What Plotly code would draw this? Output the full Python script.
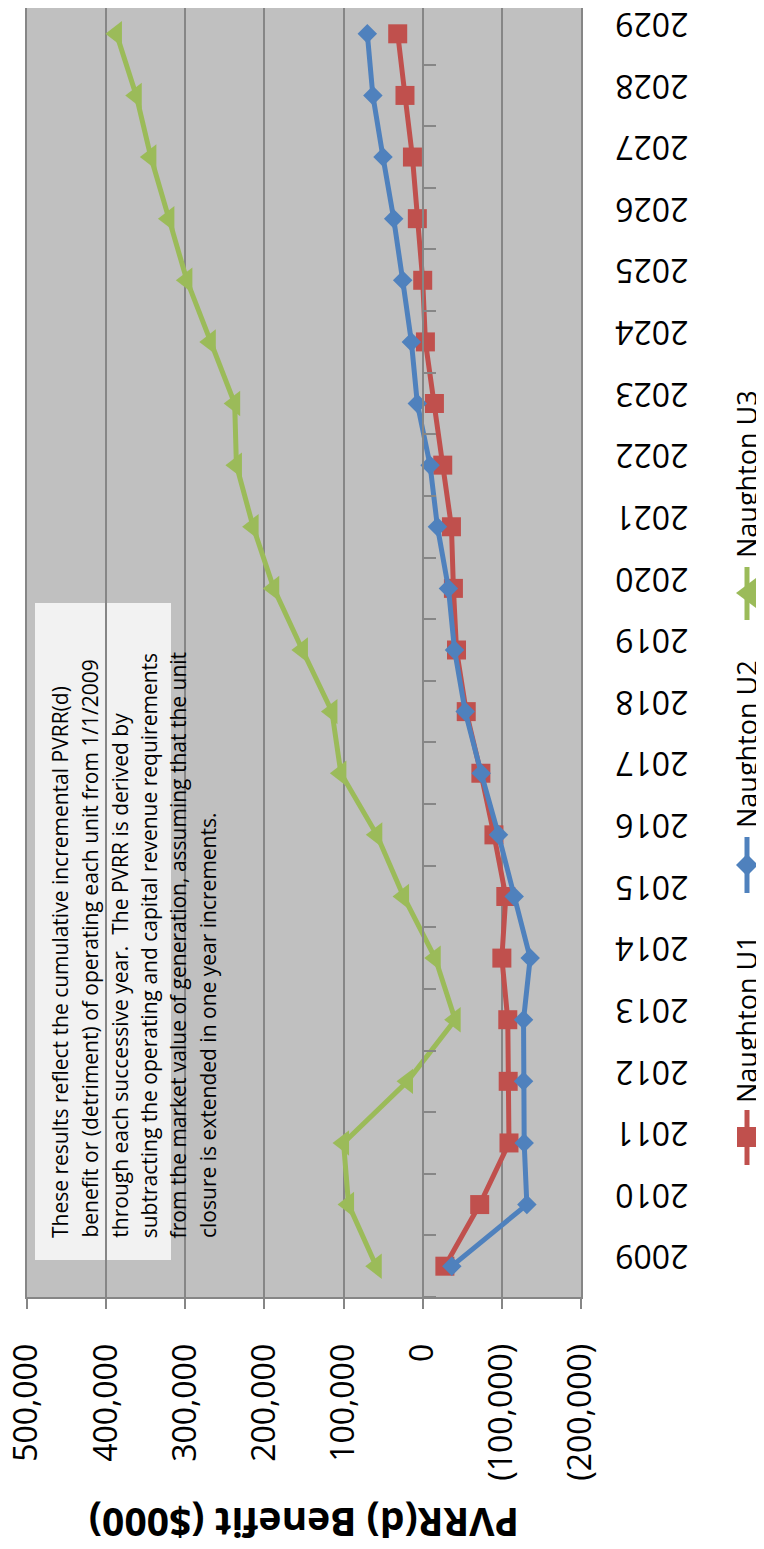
import plotly.graph_objects as go

# ---------------- data ----------------
years = ["2009", "2010", "2011", "2012", "2013", "2014", "2015", "2016", "2017", "2018",
         "2019", "2020", "2021", "2022", "2023", "2024", "2025", "2026", "2027", "2028", "2029"]

naughton_u1 = [-28000, -72000, -109000, -108000, -107500, -100000, -105000, -90000, -73500, -55000,
               -42700, -38800, -36300, -25300, -14800, -3400, 0, 6800, 13000, 22400, 31600]
naughton_u2 = [-36800, -131600, -128200, -127400, -127400, -135800, -115600, -95800, -73900, -53700,
               -40200, -32500, -18600, -9300, 6800, 14300, 25300, 36700, 50200, 63000, 70000]
naughton_u3 = [58700, 93700, 100000, 19200, -41000, -15800, 24200, 58000, 103400, 114700,
               152000, 188200, 214300, 235400, 237600, 268400, 298000, 320700, 343500, 362000, 387000]

value_ticks = [500000, 400000, 300000, 200000, 100000, 0, -100000, -200000]

series_names = ["Naughton U1", "Naughton U2", "Naughton U3"]

note_lines = [
    "These results reflect the cumulative incremental PVRR(d)",
    "benefit or (detriment) of operating each unit from 1/1/2009",
    "through each successive year.  The PVRR is derived by",
    "subtracting the operating and capital revenue requirements",
    "from the market value of generation, assuming that the unit",
    "closure is extended in one year increments.",
]
axis_title = "PVRR(d) Benefit ($000)"


def fmt(v):
    return f"{v:,}" if v >= 0 else f"({-v:,})"


# ---------------- geometry ----------------
# the page body has an 8px margin, so the figure is drawn 8px in from the corner
OFF = 8
W, H = 764 - OFF, 1549 - OFF
PLOT_L, PLOT_R, PLOT_B = 27, 581, 1297      # plot edges in window pixels
PLOT_T = OFF                                 # top of plot (window pixels)
L = PLOT_L - OFF
R = W - (PLOT_R - OFF)
T = 0
B = H - (PLOT_B - OFF)
PW = PLOT_R - PLOT_L
PH = PLOT_B - PLOT_T
CAT = (1297 - 3) / 21.0                      # category pitch
cat_top = -0.5 + (PLOT_B - PLOT_T) / CAT


def px(x):
    return (x - PLOT_L) / PW


def py(y):
    return (PLOT_B - y) / PH


RED, BLUE, GREEN = "#C0504D", "#4F81BD", "#9BBB59"
GRID = "#868686"
FONT = "Open Sans"

fig = go.Figure()
fig.add_trace(go.Scatter(x=naughton_u1, y=years, mode="lines+markers", name=series_names[0],
                         line=dict(color=RED, width=5),
                         marker=dict(symbol="square", size=19, color=RED)))
fig.add_trace(go.Scatter(x=naughton_u2, y=years, mode="lines+markers", name=series_names[1],
                         line=dict(color=BLUE, width=5),
                         marker=dict(symbol="diamond", size=15, color=BLUE)))
fig.add_trace(go.Scatter(x=naughton_u3, y=years, mode="lines+markers", name=series_names[2],
                         line=dict(color=GREEN, width=5),
                         marker=dict(symbol="triangle-left", size=22, color=GREEN)))
# empty trace to carry the category-axis line drawn at value 0
fig.add_trace(go.Scatter(x=[], y=[], yaxis="y2", showlegend=False, hoverinfo="skip"))

shapes = []
annotations = []

# note box
shapes.append(dict(type="rect", xref="paper", yref="paper", layer="between",
                   x0=px(35), x1=px(171), y0=py(1260), y1=py(603),
                   fillcolor="#F2F2F2", line=dict(width=0)))
for i, line in enumerate(note_lines):
    annotations.append(dict(text=line, xref="paper", yref="paper",
                            x=px(60 + i * 29.6), y=py(1240), xanchor="center", yanchor="bottom",
                            textangle=-90, showarrow=False,
                            font=dict(family=FONT, size=21, color="black")))

# axis title
annotations.append(dict(text="<b>" + axis_title + "</b>", xref="paper", yref="paper",
                        x=px(304), y=py(1524), xanchor="center", yanchor="middle",
                        textangle=180, showarrow=False,
                        font=dict(family=FONT, size=39, color="black")))

# legend (rotated)
LX = 747
leg = [
    (series_names[0], RED, 1110, 1165, 1105),
    (series_names[1], BLUE, 837, 893, 830),
    (series_names[2], GREEN, 567, 620, 560),
]
for name, col, ya, yb, ytext in leg:
    shapes.append(dict(type="line", xref="paper", yref="paper",
                       x0=px(LX), x1=px(LX), y0=py(ya), y1=py(yb),
                       line=dict(color=col, width=5)))
    annotations.append(dict(text=name, xref="paper", yref="paper",
                            x=px(LX - 1), y=py(ytext), xanchor="center", yanchor="bottom",
                            textangle=-90, showarrow=False,
                            font=dict(family=FONT, size=27, color="black")))
# legend symbols
shapes.append(dict(type="rect", xref="paper", yref="paper",
                   x0=px(LX - 10), x1=px(LX + 10), y0=py(1147), y1=py(1127),
                   fillcolor=RED, line=dict(width=0)))
shapes.append(dict(type="path", xref="paper", yref="paper",
                   path=f"M {px(LX-11)},{py(865)} L {px(LX)},{py(854)} L {px(LX+11)},{py(865)} L {px(LX)},{py(876)} Z",
                   fillcolor=BLUE, line=dict(width=0)))
shapes.append(dict(type="path", xref="paper", yref="paper",
                   path=f"M {px(LX-11)},{py(593)} L {px(LX+9)},{py(578)} L {px(LX+9)},{py(608)} Z",
                   fillcolor=GREEN, line=dict(width=0)))

fig.update_layout(
    width=W, height=H,
    margin=dict(l=L, r=R, t=T, b=B, autoexpand=False),
    paper_bgcolor="white", plot_bgcolor="#C0C0C0",
    showlegend=False,
    font=dict(family=FONT, color="black"),
    xaxis=dict(range=[500000, -200000], tickmode="array", tickvals=value_ticks,
               ticktext=[fmt(v) for v in value_ticks], tickangle=-90,
               tickfont=dict(family=FONT, size=32, color="black"),
               ticks="outside", ticklen=10, tickwidth=2, tickcolor=GRID,
               showline=True, linecolor=GRID, linewidth=2,
               showgrid=True, gridcolor=GRID, gridwidth=2, zeroline=False,
               ticklabelstandoff=22, ticklabeloverflow="allow"),
    yaxis=dict(type="category", range=[-0.5, cat_top], side="right",
               tickangle=180, tickfont=dict(family=FONT, size=32, color="black"),
               ticks="", showgrid=False, zeroline=False,
               showline=True, mirror=True, linecolor=GRID, linewidth=2,
               ticklabelstandoff=99, ticklabeloverflow="allow"),
    yaxis2=dict(overlaying="y", anchor="free", position=px(422.7), side="right",
                range=[-0.5, cat_top], tickmode="linear", tick0=-0.5, dtick=1,
                ticks="outside", ticklen=12, tickwidth=2, tickcolor=GRID,
                showline=True, linecolor=GRID, linewidth=2,
                showticklabels=False, showgrid=False, zeroline=False),
    shapes=shapes,
    annotations=annotations,
)

fig.write_html("out.html")
